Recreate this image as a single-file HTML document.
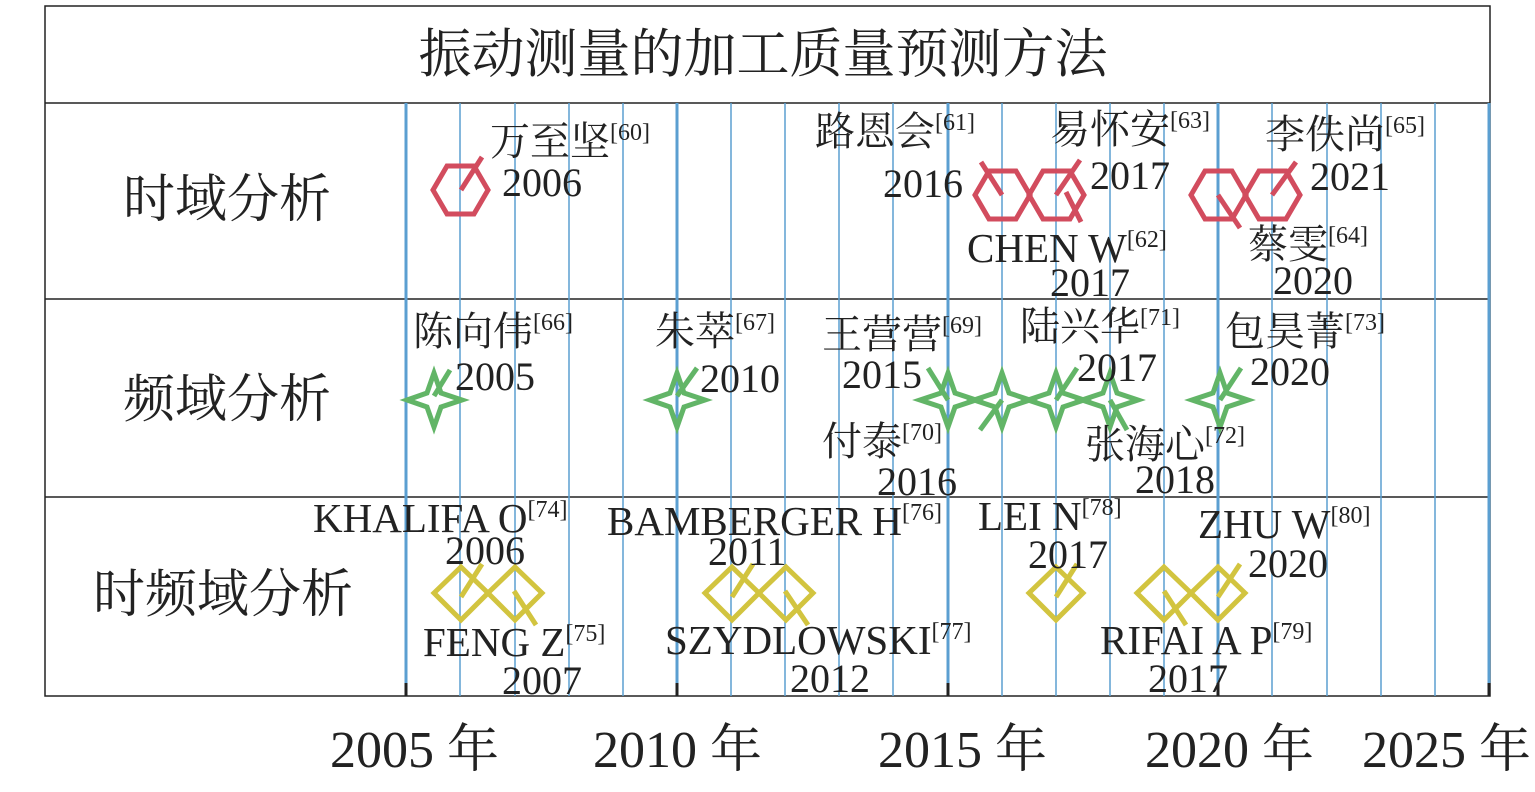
<!DOCTYPE html>
<html><head><meta charset="utf-8"><style>
html,body{margin:0;padding:0;background:#fff;}
svg text{font-family:"Liberation Serif","Noto Serif CJK SC",serif;fill:#222;}
</style></head><body>
<svg width="1535" height="787" viewBox="0 0 1535 787" xmlns="http://www.w3.org/2000/svg">
<g stroke="#222" stroke-width="1.5" fill="none">
<rect x="45" y="6" width="1445" height="690"/>
<line x1="45" y1="103" x2="1490" y2="103"/>
<line x1="45" y1="299" x2="1490" y2="299"/>
<line x1="45" y1="497" x2="1490" y2="497"/>
</g>
<g stroke="#5b9fd1">
<line x1="406" y1="103" x2="406" y2="696" stroke-width="3"/>
<line x1="460" y1="103" x2="460" y2="696" stroke-width="1.5"/>
<line x1="515" y1="103" x2="515" y2="696" stroke-width="1.5"/>
<line x1="569" y1="103" x2="569" y2="696" stroke-width="1.5"/>
<line x1="623" y1="103" x2="623" y2="696" stroke-width="1.5"/>
<line x1="677" y1="103" x2="677" y2="696" stroke-width="3"/>
<line x1="731" y1="103" x2="731" y2="696" stroke-width="1.5"/>
<line x1="785" y1="103" x2="785" y2="696" stroke-width="1.5"/>
<line x1="839" y1="103" x2="839" y2="696" stroke-width="1.5"/>
<line x1="893" y1="103" x2="893" y2="696" stroke-width="1.5"/>
<line x1="948" y1="103" x2="948" y2="696" stroke-width="3"/>
<line x1="1002" y1="103" x2="1002" y2="696" stroke-width="1.5"/>
<line x1="1056" y1="103" x2="1056" y2="696" stroke-width="1.5"/>
<line x1="1110" y1="103" x2="1110" y2="696" stroke-width="1.5"/>
<line x1="1164" y1="103" x2="1164" y2="696" stroke-width="1.5"/>
<line x1="1218" y1="103" x2="1218" y2="696" stroke-width="3"/>
<line x1="1272" y1="103" x2="1272" y2="696" stroke-width="1.5"/>
<line x1="1327" y1="103" x2="1327" y2="696" stroke-width="1.5"/>
<line x1="1381" y1="103" x2="1381" y2="696" stroke-width="1.5"/>
<line x1="1435" y1="103" x2="1435" y2="696" stroke-width="1.5"/>
<line x1="1489" y1="103" x2="1489" y2="696" stroke-width="3"/>
</g>
<g stroke="#222" stroke-width="3">
<line x1="406" y1="683" x2="406" y2="696"/><line x1="677" y1="683" x2="677" y2="696"/><line x1="948" y1="683" x2="948" y2="696"/><line x1="1218" y1="683" x2="1218" y2="696"/><line x1="1489" y1="683" x2="1489" y2="696"/>
</g>
<g stroke="#d24c5e" stroke-width="5" fill="none">
<polygon points="433,190 447,166 474,166 488,190 474,214 447,214"/>
<line x1="461" y1="190" x2="482" y2="157"/>
<polygon points="975,195 989,171 1016,171 1030,195 1016,219 989,219"/>
<line x1="1002" y1="195" x2="981" y2="162"/>
<polygon points="1029,195 1043,171 1070,171 1084,195 1070,219 1043,219"/>
<line x1="1056" y1="195" x2="1080" y2="160"/>
<line x1="1066" y1="192" x2="1081" y2="222"/>
<polygon points="1191,195 1205,171 1232,171 1246,195 1232,219 1205,219"/>
<line x1="1218" y1="195" x2="1240" y2="228"/>
<polygon points="1245,195 1259,171 1286,171 1300,195 1286,219 1259,219"/>
<line x1="1272" y1="195" x2="1296" y2="162"/>
</g>
<g stroke="#62b567" stroke-width="5" fill="none">
<polygon points="434,373 441,393 462,400 441,407 434,427 427,407 407,400 427,393"/>
<line x1="434" y1="396" x2="450" y2="370"/>
<polygon points="677,373 684,393 705,400 684,407 677,427 670,407 650,400 670,393"/>
<line x1="677" y1="396" x2="697" y2="368"/>
<polygon points="948,373 955,393 976,400 955,407 948,427 941,407 920,400 941,393"/>
<line x1="948" y1="400" x2="928" y2="368"/>
<polygon points="1002,373 1009,393 1030,400 1009,407 1002,427 995,407 974,400 995,393"/>
<line x1="1002" y1="400" x2="980" y2="430"/>
<polygon points="1056,373 1063,393 1084,400 1063,407 1056,427 1049,407 1028,400 1049,393"/>
<line x1="1056" y1="400" x2="1077" y2="368"/>
<polygon points="1110,373 1117,393 1138,400 1117,407 1110,427 1103,407 1082,400 1103,393"/>
<line x1="1110" y1="400" x2="1127" y2="430"/>
<polygon points="1220,373 1227,393 1248,400 1227,407 1220,427 1213,407 1192,400 1213,393"/>
<line x1="1220" y1="400" x2="1241" y2="368"/>
</g>
<g stroke="#d2c43f" stroke-width="5" fill="none">
<polygon points="461,567 488,593 461,620 434,593"/>
<line x1="461" y1="597" x2="482" y2="564"/>
<polygon points="515,567 542,593 515,620 488,593"/>
<line x1="514" y1="591" x2="536" y2="625"/>
<polygon points="732,567 759,593 732,620 705,593"/>
<line x1="732" y1="597" x2="753" y2="564"/>
<polygon points="786,567 813,593 786,620 759,593"/>
<line x1="785" y1="591" x2="808" y2="625"/>
<polygon points="1056,567 1083,593 1056,620 1029,593"/>
<line x1="1056" y1="597" x2="1077" y2="564"/>
<polygon points="1164,567 1191,593 1164,620 1137,593"/>
<line x1="1164" y1="591" x2="1186" y2="625"/>
<polygon points="1218,567 1245,593 1218,620 1191,593"/>
<line x1="1218" y1="597" x2="1240" y2="564"/>
</g>
<text x="763" y="72" font-size="53" text-anchor="middle">振动测量的加工质量预测方法</text>
<text x="227" y="217" font-size="52" text-anchor="middle">时域分析</text>
<text x="227" y="417" font-size="52" text-anchor="middle">频域分析</text>
<text x="223" y="612" font-size="52" text-anchor="middle">时频域分析</text>
<g font-size="52">
<text x="330" y="767">2005 年</text>
<text x="593" y="767">2010 年</text>
<text x="878" y="767">2015 年</text>
<text x="1145" y="767">2020 年</text>
<text x="1362" y="767">2025 年</text>
</g>
<g font-size="40">
<text x="490" y="155">万至坚<tspan font-size="24" dy="-15">[60]</tspan></text>
<text x="502" y="196">2006</text>
<text x="815" y="145">路恩会<tspan font-size="24" dy="-15">[61]</tspan></text>
<text x="883" y="197">2016</text>
<text x="1050" y="143">易怀安<tspan font-size="24" dy="-15">[63]</tspan></text>
<text x="1090" y="189">2017</text>
<text x="1265" y="148">李佚尚<tspan font-size="24" dy="-15">[65]</tspan></text>
<text x="1310" y="190">2021</text>
<text x="967" y="262" font-size="41">CHEN W<tspan font-size="24" dy="-15">[62]</tspan></text>
<text x="1050" y="296">2017</text>
<text x="1248" y="258">蔡雯<tspan font-size="24" dy="-15">[64]</tspan></text>
<text x="1273" y="294">2020</text>
<text x="413" y="345">陈向伟<tspan font-size="24" dy="-15">[66]</tspan></text>
<text x="455" y="390">2005</text>
<text x="655" y="345">朱萃<tspan font-size="24" dy="-15">[67]</tspan></text>
<text x="700" y="392">2010</text>
<text x="822" y="348">王营营<tspan font-size="24" dy="-15">[69]</tspan></text>
<text x="842" y="388">2015</text>
<text x="1020" y="340">陆兴华<tspan font-size="24" dy="-15">[71]</tspan></text>
<text x="1077" y="381">2017</text>
<text x="1225" y="345">包昊菁<tspan font-size="24" dy="-15">[73]</tspan></text>
<text x="1250" y="385">2020</text>
<text x="822" y="455">付泰<tspan font-size="24" dy="-15">[70]</tspan></text>
<text x="877" y="495">2016</text>
<text x="1085" y="458">张海心<tspan font-size="24" dy="-15">[72]</tspan></text>
<text x="1135" y="493">2018</text>
<text x="313" y="532" font-size="41">KHALIFA O<tspan font-size="24" dy="-15">[74]</tspan></text>
<text x="445" y="564">2006</text>
<text x="607" y="535" font-size="41">BAMBERGER H<tspan font-size="24" dy="-15">[76]</tspan></text>
<text x="708" y="565">2011</text>
<text x="978" y="530" font-size="41">LEI N<tspan font-size="24" dy="-15">[78]</tspan></text>
<text x="1028" y="568">2017</text>
<text x="1198" y="538" font-size="41">ZHU W<tspan font-size="24" dy="-15">[80]</tspan></text>
<text x="1248" y="577">2020</text>
<text x="423" y="656" font-size="41">FENG Z<tspan font-size="24" dy="-15">[75]</tspan></text>
<text x="502" y="694">2007</text>
<text x="665" y="654" font-size="41">SZYDLOWSKI<tspan font-size="24" dy="-15">[77]</tspan></text>
<text x="790" y="692">2012</text>
<text x="1100" y="654" font-size="41">RIFAI A P<tspan font-size="24" dy="-15">[79]</tspan></text>
<text x="1148" y="692">2017</text>
</g>
</svg>
</body></html>
